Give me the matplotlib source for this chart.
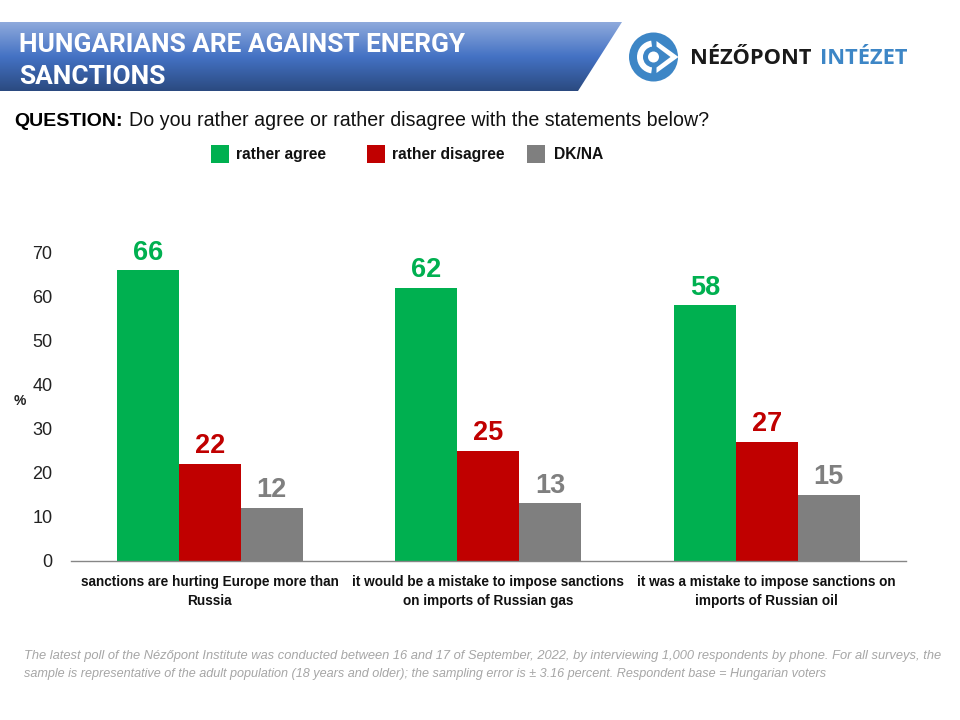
import numpy as np
import matplotlib
matplotlib.use("Agg")
import matplotlib.pyplot as plt
from matplotlib.patches import Polygon, Rectangle, Circle, Wedge
from matplotlib.colors import LinearSegmentedColormap

categories = ["sanctions are hurting Europe more than\nRussia",
              "it would be a mistake to impose sanctions\non imports of Russian gas",
              "it was a mistake to impose sanctions on\nimports of Russian oil"]
series_names = ["rather agree", "rather disagree", "DK/NA"]
agree = [66, 62, 58]
disagree = [22, 25, 27]
dkna = [12, 13, 15]
colors = ["#00B050", "#C00000", "#7F7F7F"]
label_colors = ["#00B050", "#C00000", "#7F7F7F"]
yticks = [0, 10, 20, 30, 40, 50, 60, 70]
title_lines = ["HUNGARIANS ARE AGAINST ENERGY", "SANCTIONS"]
foot1 = "The latest poll of the Nézőpont Institute was conducted between 16 and 17 of September, 2022, by interviewing 1,000 respondents by phone. For all surveys, the"
foot2 = "sample is representative of the adult population (18 years and older); the sampling error is ± 3.16 percent. Respondent base = Hungarian voters"

W, H = 960, 720
plt.rcParams['font.family'] = ['Liberation Sans', 'DejaVu Sans']
fig = plt.figure(figsize=(W/100, H/100), dpi=100, facecolor="white")

# overlay in pixel coordinates
bg = fig.add_axes([0, 0, 1, 1], zorder=0)
bg.set_xlim(0, W); bg.set_ylim(H, 0); bg.axis("off")
cmap = LinearSegmentedColormap.from_list("hdr", [(0, "#8FAADC"), (0.5, "#4472C4"), (1, "#2B4A80")])
im = bg.imshow(np.linspace(0, 1, 256)[:, None], cmap=cmap, aspect="auto", extent=(0, 622, 91, 22), zorder=1)
clip = Polygon([(0, 22), (622, 22), (578, 91), (0, 91)], closed=True, transform=bg.transData, fc="none", ec="none")
bg.add_patch(clip)
im.set_clip_path(clip)
bg.set_xlim(0, W); bg.set_ylim(H, 0)

bg.text(19, 44.5, title_lines[0], color="white", fontsize=18.9, fontweight="bold", family="Roboto", va="center", ha="left", zorder=3)
bg.text(19, 76.5, title_lines[1], color="white", fontsize=18.9, fontweight="bold", family="Roboto", va="center", ha="left", zorder=3)

# logo
blue = "#3D86C6"
cx, cy = 653.5, 57
bg.add_patch(Circle((cx, cy), 24.5, fc=blue, ec="none", zorder=2))
bg.add_patch(Wedge((cx, cy), 16.5, 98, 262, width=6, fc="white", ec="none", zorder=3))
bg.add_patch(Polygon([(cx+3, cy-16), (cx+25, cy), (cx+3, cy+16), (cx+3, cy+10.5), (cx+17, cy), (cx+3, cy-10.5)], fc="white", ec="none", zorder=3))
bg.add_patch(Circle((cx, cy), 5.5, fc="white", ec="none", zorder=3))
bg.text(689.5, 58, "NÉZŐPONT", family="Open Sans", fontweight="bold", fontsize=15.75, color="#1A1A1A", va="center", ha="left", zorder=3)
bg.text(819.5, 58, "INTÉZET", family="Open Sans", fontweight="bold", fontsize=15.75, color=blue, va="center", ha="left", zorder=3)

# question
bg.text(14, 126, "QUESTION:", fontsize=14, fontweight="bold", color="black", va="baseline", ha="left", zorder=3)
bg.text(129, 126, "Do you rather agree or rather disagree with the statements below?", fontsize=14.1, color="#111111", va="baseline", ha="left", zorder=3)

# legend
for x0, tx, name, c in zip([211, 367, 527], [236, 392, 554], series_names, colors):
    bg.add_patch(Rectangle((x0, 145), 18, 18, fc=c, ec="none", zorder=3))
    bg.text(tx, 154.5, name, fontsize=11.25, fontweight="bold", color="#111111", va="center", ha="left", zorder=3)

# chart
ax = fig.add_axes([70.5/W, 1-560.5/H, 835.5/W, 308/H], zorder=2)
ax.patch.set_alpha(0)
x = np.arange(3)
bw = 62/278.5
for i, (vals, c, lc) in enumerate(zip([agree, disagree, dkna], colors, label_colors)):
    bars = ax.bar(x + (i-1)*bw, vals, bw, color=c, linewidth=0)
    ax.bar_label(bars, labels=[str(v) for v in vals], padding=3.3, color=lc, fontsize=19.5, fontweight="bold")
ax.set_xlim(-0.5, 2.5)
ax.set_ylim(0, 70)
ax.set_yticks(yticks)
ax.tick_params(axis="y", length=0, labelsize=13, pad=13, labelcolor="#222222")
ax.set_xticks(x)
ax.set_xticklabels(categories, fontsize=9.85, fontweight="bold", color="#111111", linespacing=1.45)
ax.tick_params(axis="x", length=0, pad=10.5)
for s in ["top", "right", "left"]:
    ax.spines[s].set_visible(False)
ax.spines["bottom"].set_color("#868686")
ax.spines["bottom"].set_linewidth(1)
bg.text(20, 401, "%", fontsize=10, fontweight="bold", color="#222222", va="center", ha="center", zorder=3)

# footnote
bg.text(24, 656, foot1, fontsize=9.27, style="italic", color="#A6A6A6", va="center", ha="left", zorder=3)
bg.text(24, 674, foot2, fontsize=9.1, style="italic", color="#A6A6A6", va="center", ha="left", zorder=3)

fig.savefig("out.png", dpi=100)
